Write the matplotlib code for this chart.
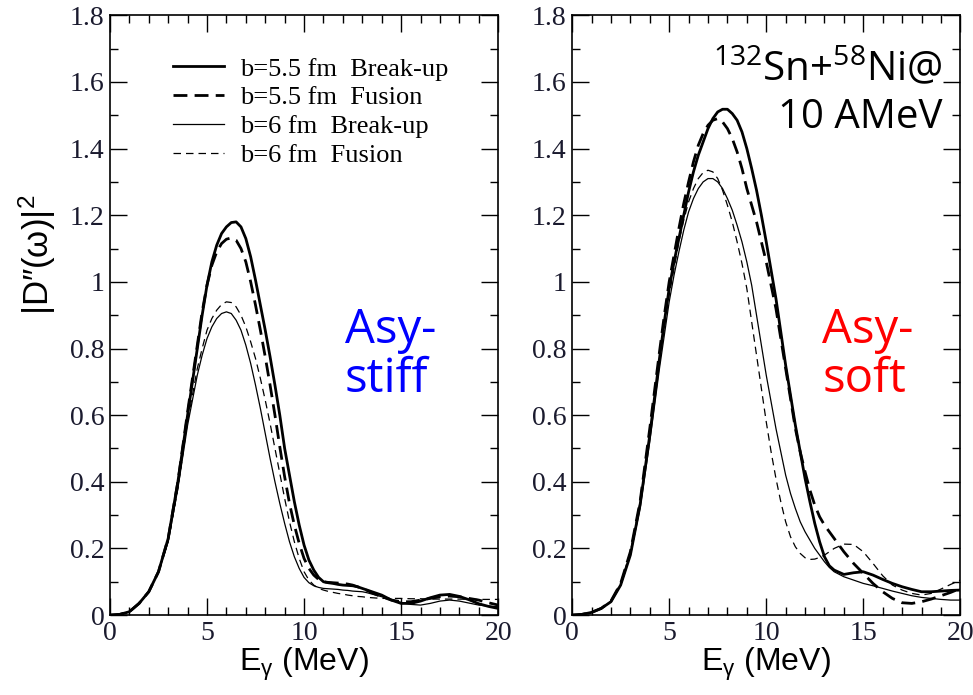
import matplotlib.pyplot as plt
from matplotlib.ticker import MultipleLocator, FormatStrFormatter

# photon energy grid (MeV), finer around the resonance
e_gamma = [0.0, 0.5, 1.0, 1.5, 2.0, 2.5, 3.0, 3.5, 4.0,
           4.5, 4.75, 5.0, 5.25, 5.5, 5.75, 6.0, 6.25, 6.5, 6.75,
           7.0, 7.25, 7.5, 7.75, 8.0, 8.25, 8.5, 8.75, 9.0, 9.25,
           9.5, 9.75, 10.0, 10.25, 10.5, 10.75, 11.0, 11.25, 11.5, 11.75,
           12.0, 12.25, 12.5, 12.75, 13.0, 13.25, 13.5,
           14.0, 14.5, 15.0, 15.5, 16.0, 16.5, 17.0, 17.5, 18.0, 18.5, 19.0, 19.5, 20.0]

# asy-stiff
stiff_bu55 = [0.0, 0.002, 0.01, 0.035, 0.07, 0.13, 0.23, 0.40, 0.60,
              0.80, 0.90, 0.99, 1.06, 1.11, 1.145, 1.165, 1.178, 1.18, 1.165,
              1.13, 1.075, 1.005, 0.93, 0.855, 0.775, 0.69, 0.60, 0.50, 0.42,
              0.34, 0.27, 0.21, 0.165, 0.135, 0.113, 0.10, 0.097, 0.095, 0.092,
              0.09, 0.089, 0.088, 0.085, 0.08, 0.075, 0.07,
              0.06, 0.045, 0.035, 0.035, 0.042, 0.052, 0.06, 0.062, 0.056, 0.046, 0.034, 0.026, 0.02]
stiff_fu55 = [0.0, 0.002, 0.01, 0.035, 0.07, 0.13, 0.23, 0.40, 0.61,
              0.81, 0.91, 0.99, 1.05, 1.09, 1.115, 1.128, 1.132, 1.125, 1.10,
              1.06, 1.0, 0.93, 0.855, 0.775, 0.69, 0.60, 0.505, 0.415, 0.335,
              0.27, 0.215, 0.17, 0.14, 0.12, 0.107, 0.10, 0.098, 0.097, 0.096,
              0.095, 0.093, 0.09, 0.085, 0.08, 0.074, 0.067,
              0.055, 0.045, 0.04, 0.04, 0.045, 0.05, 0.055, 0.057, 0.055, 0.05, 0.045, 0.037, 0.03]
stiff_bu6 = [0.0, 0.002, 0.01, 0.035, 0.07, 0.13, 0.22, 0.38, 0.57,
             0.72, 0.78, 0.83, 0.865, 0.89, 0.905, 0.91, 0.905, 0.885, 0.855,
             0.81, 0.755, 0.69, 0.62, 0.545, 0.47, 0.40, 0.335, 0.275, 0.22,
             0.175, 0.14, 0.113, 0.097, 0.088, 0.083, 0.08, 0.079, 0.078, 0.077,
             0.075, 0.074, 0.072, 0.071, 0.07, 0.067, 0.063,
             0.055, 0.045, 0.038, 0.032, 0.03, 0.035, 0.042, 0.045, 0.042, 0.036, 0.03, 0.027, 0.025]
stiff_fu6 = [0.0, 0.002, 0.01, 0.035, 0.07, 0.13, 0.22, 0.38, 0.58,
             0.74, 0.80, 0.855, 0.89, 0.915, 0.932, 0.94, 0.938, 0.925, 0.90,
             0.865, 0.82, 0.77, 0.71, 0.645, 0.575, 0.50, 0.425, 0.35, 0.28,
             0.22, 0.17, 0.13, 0.105, 0.09, 0.08, 0.075, 0.071, 0.068, 0.065,
             0.063, 0.06, 0.058, 0.056, 0.055, 0.053, 0.052,
             0.05, 0.05, 0.05, 0.049, 0.049, 0.048, 0.048, 0.048, 0.048, 0.047, 0.047, 0.047, 0.047]

# asy-soft
soft_bu55 = [0.0, 0.002, 0.008, 0.02, 0.04, 0.09, 0.18, 0.33, 0.54,
             0.77, 0.88, 0.98, 1.06, 1.13, 1.20, 1.27, 1.33, 1.38, 1.42,
             1.46, 1.49, 1.51, 1.518, 1.518, 1.505, 1.485, 1.45, 1.40, 1.34,
             1.275, 1.20, 1.12, 1.035, 0.95, 0.85, 0.75, 0.66, 0.57, 0.49,
             0.41, 0.34, 0.275, 0.22, 0.175, 0.148, 0.135,
             0.122, 0.127, 0.13, 0.12, 0.107, 0.095, 0.085, 0.077, 0.07, 0.07, 0.072, 0.074, 0.075]
soft_fu55 = [0.0, 0.002, 0.008, 0.02, 0.042, 0.095, 0.19, 0.34, 0.56,
             0.79, 0.90, 1.00, 1.08, 1.16, 1.235, 1.30, 1.36, 1.41, 1.445,
             1.47, 1.485, 1.49, 1.48, 1.46, 1.43, 1.39, 1.34, 1.28, 1.23,
             1.18, 1.12, 1.06, 0.99, 0.92, 0.83, 0.74, 0.65, 0.56, 0.49,
             0.43, 0.375, 0.33, 0.295, 0.27, 0.25, 0.23,
             0.19, 0.155, 0.125, 0.095, 0.07, 0.05, 0.037, 0.035, 0.04, 0.048, 0.058, 0.068, 0.08]
soft_bu6 = [0.0, 0.002, 0.008, 0.02, 0.04, 0.09, 0.18, 0.32, 0.52,
            0.74, 0.84, 0.94, 1.02, 1.09, 1.155, 1.21, 1.25, 1.28, 1.30,
            1.31, 1.31, 1.30, 1.28, 1.25, 1.215, 1.17, 1.12, 1.06, 0.99,
            0.90, 0.81, 0.72, 0.64, 0.56, 0.49, 0.42, 0.365, 0.32, 0.28,
            0.25, 0.225, 0.20, 0.18, 0.16, 0.143, 0.13,
            0.115, 0.105, 0.095, 0.088, 0.08, 0.072, 0.065, 0.058, 0.053, 0.05, 0.047, 0.045, 0.045]
soft_fu6 = [0.0, 0.002, 0.008, 0.02, 0.042, 0.095, 0.19, 0.34, 0.54,
            0.76, 0.86, 0.96, 1.04, 1.12, 1.185, 1.24, 1.28, 1.31, 1.328,
            1.335, 1.33, 1.31, 1.275, 1.23, 1.18, 1.12, 1.055, 0.98, 0.88,
            0.78, 0.68, 0.58, 0.49, 0.41, 0.34, 0.28, 0.235, 0.205, 0.185,
            0.172, 0.167, 0.168, 0.173, 0.18, 0.19, 0.20,
            0.213, 0.212, 0.19, 0.155, 0.118, 0.09, 0.075, 0.065, 0.06, 0.065, 0.078, 0.092, 0.105]

labels = ["b=5.5 fm  Break-up", "b=5.5 fm  Fusion",
          "b=6 fm  Break-up", "b=6 fm  Fusion"]

styles = [dict(color="black", lw=2.0, ls="-"),
          dict(color="black", lw=2.0, ls=(0, (5, 2.6))),
          dict(color="black", lw=0.9, ls="-"),
          dict(color="black", lw=0.9, ls=(0, (6, 4)))]

tick_color = "#1a1a2e"
serif = "Liberation Serif"
sans = "Open Sans"


def setup_axes(ax):
    ax.set_xlim(0, 20)
    ax.set_ylim(0, 1.8)
    ax.xaxis.set_major_locator(MultipleLocator(5))
    ax.xaxis.set_minor_locator(MultipleLocator(1))
    ax.yaxis.set_major_locator(MultipleLocator(0.2))
    ax.yaxis.set_minor_locator(MultipleLocator(0.1))
    ax.yaxis.set_major_formatter(FormatStrFormatter("%g"))
    ax.tick_params(which="both", direction="in", top=True, right=True,
                   width=1.0, colors="black", labelcolor=tick_color)
    ax.tick_params(which="major", length=12, labelsize=20, pad=4)
    ax.tick_params(which="minor", length=6)
    for lbl in ax.get_xticklabels() + ax.get_yticklabels():
        lbl.set_family(serif)
    for sp in ax.spines.values():
        sp.set_linewidth(1.2)
    ax.set_xlabel(r"$\mathregular{E_{\gamma}}$ (MeV)", family="Liberation Sans",
                  fontsize=23, labelpad=0)


fig = plt.figure(figsize=(9.73, 6.95), dpi=100)
ax1 = fig.add_axes([0.113, 0.115, 0.399, 0.863])
ax2 = fig.add_axes([0.588, 0.115, 0.399, 0.863])

for ys, lab, st in zip([stiff_bu55, stiff_fu55, stiff_bu6, stiff_fu6], labels, styles):
    ax1.plot(e_gamma, ys, label=lab, solid_joinstyle="round", **st)
for ys, st in zip([soft_bu55, soft_fu55, soft_bu6, soft_fu6], styles):
    ax2.plot(e_gamma, ys, solid_joinstyle="round", **st)

setup_axes(ax1)
setup_axes(ax2)

ax1.set_ylabel("|D\u2033(\u03c9)|" + r"$\mathregular{^{2}}$",
               family="Liberation Sans", fontsize=25)
ax1.yaxis.set_label_coords(-0.135, 0.6)

ax1.legend(loc="upper left", bbox_to_anchor=(0.1, 0.97), frameon=False,
           prop={"family": serif, "size": 19}, handlelength=1.95,
           handletextpad=0.6, labelspacing=0.2)

ax1.text(0.605, 0.372, "Asy-\nstiff", transform=ax1.transAxes, color="blue",
         family=sans, fontsize=34, va="baseline", ha="left", linespacing=1.05)
ax2.text(0.644, 0.372, "Asy-\nsoft", transform=ax2.transAxes, color="red",
         family=sans, fontsize=34, va="baseline", ha="left", linespacing=1.05)
ax2.text(0.955, 0.812, r"$\mathregular{^{132}Sn{+}^{58}Ni@}$" + "\n10 AMeV",
         transform=ax2.transAxes, color="black", family=sans, fontsize=29,
         va="baseline", ha="right", multialignment="right", linespacing=1.2)

fig.savefig("out.png", dpi=100)
